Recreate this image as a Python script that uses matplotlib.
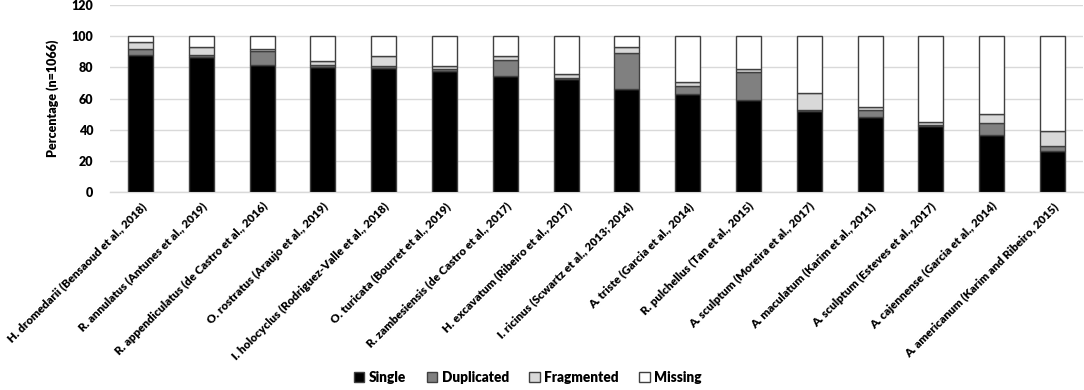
import matplotlib
matplotlib.use("Agg")
import matplotlib.pyplot as plt
import numpy as np

categories = [
    "H. dromedarii (Bensaoud et al., 2018)",
    "R. annulatus (Antunes et al., 2019)",
    "R. appendiculatus (de Castro et al., 2016)",
    "O. rostratus (Araujo et al., 2019)",
    "I. holocyclus (Rodriguez-Valle et al., 2018)",
    "O. turicata (Bourret et al., 2019)",
    "R. zambesiensis (de Castro et al., 2017)",
    "H. excavatum (Ribeiro et al., 2017)",
    "I. ricinus (Scwartz et al., 2013; 2014)",
    "A. triste (Garcia et al., 2014)",
    "R. pulchellus (Tan et al., 2015)",
    "A. sculptum (Moreira et al., 2017)",
    "A. maculatum (Karim et al., 2011)",
    "A. sculptum (Esteves et al., 2017)",
    "A. cajennense (Garcia et al., 2014)",
    "A. americanum (Karim and Ribeiro, 2015)",
]
single = [88.3, 86.8, 81.3, 80.4, 79.7, 77.6, 74.6, 72.5, 65.9, 62.7, 59.1, 52.2, 48.0, 42.6, 36.7, 26.4]
duplicated = [3.6, 1.5, 9.3, 1.5, 1.4, 1.3, 10.5, 0.8, 23.4, 5.3, 17.9, 0.5, 4.7, 0.3, 7.4, 3.2]
fragmented = [4.5, 4.9, 1.1, 2.0, 6.5, 2.1, 2.1, 2.4, 3.9, 2.6, 2.1, 10.7, 2.1, 1.9, 6.0, 9.8]
missing = [3.6, 6.8, 8.3, 16.1, 12.4, 19.0, 12.8, 24.3, 6.8, 29.4, 20.9, 36.6, 45.2, 55.2, 49.9, 60.6]
series_names = ["Single", "Duplicated", "Fragmented", "Missing"]
yticks = [0, 20, 40, 60, 80, 100, 120]

plt.rcParams['font.family'] = ['Lato', 'DejaVu Sans']

fig = plt.figure(figsize=(10.84, 3.90), dpi=100)
ax = fig.add_axes([0.1015, 0.507, 0.8975, 0.48])

x = np.arange(len(categories))
colors = ["#000000", "#808080", "#d9d9d9", "#ffffff"]
data = [single, duplicated, fragmented, missing]
bottom = np.zeros(len(categories))
handles = []
for name, vals, c in zip(series_names, data, colors):
    b = ax.bar(x, vals, width=0.41, bottom=bottom, color=c, edgecolor="#404040",
               linewidth=1.0, label=name, zorder=3)
    handles.append(b)
    bottom += np.array(vals)

ax.set_xlim(-0.5, len(categories) - 0.5)
ax.set_ylim(0, 120)
ax.set_yticks(yticks)
ax.set_yticklabels([str(t) for t in yticks], fontsize=9, fontweight='heavy')
ax.yaxis.grid(True, color="#d9d9d9", linewidth=1.0, zorder=0)
ax.set_axisbelow(True)
for s in ["left", "right", "top"]:
    ax.spines[s].set_visible(False)
ax.spines["bottom"].set_color("#d9d9d9")
ax.spines["bottom"].set_linewidth(1.0)
ax.tick_params(axis='both', length=0)
ax.tick_params(axis='y', pad=12)
ax.set_xticks(x)
ax.set_xticklabels(categories, rotation=45, ha='right', rotation_mode='anchor',
                   fontsize=8.3, fontweight='heavy')
ax.tick_params(axis='x', pad=6)
ax.set_ylabel("Percentage (n=1066)", fontsize=9, fontweight='heavy', labelpad=9)

fig.legend(handles=handles, labels=series_names, loc='lower center',
           bbox_to_anchor=(0.487, -0.015), ncol=4, frameon=False,
           prop={'size': 9.8, 'weight': 'heavy'}, handlelength=0.75, handleheight=0.75,
           handletextpad=0.35, columnspacing=1.5)

fig.savefig("out.png", dpi=100)
